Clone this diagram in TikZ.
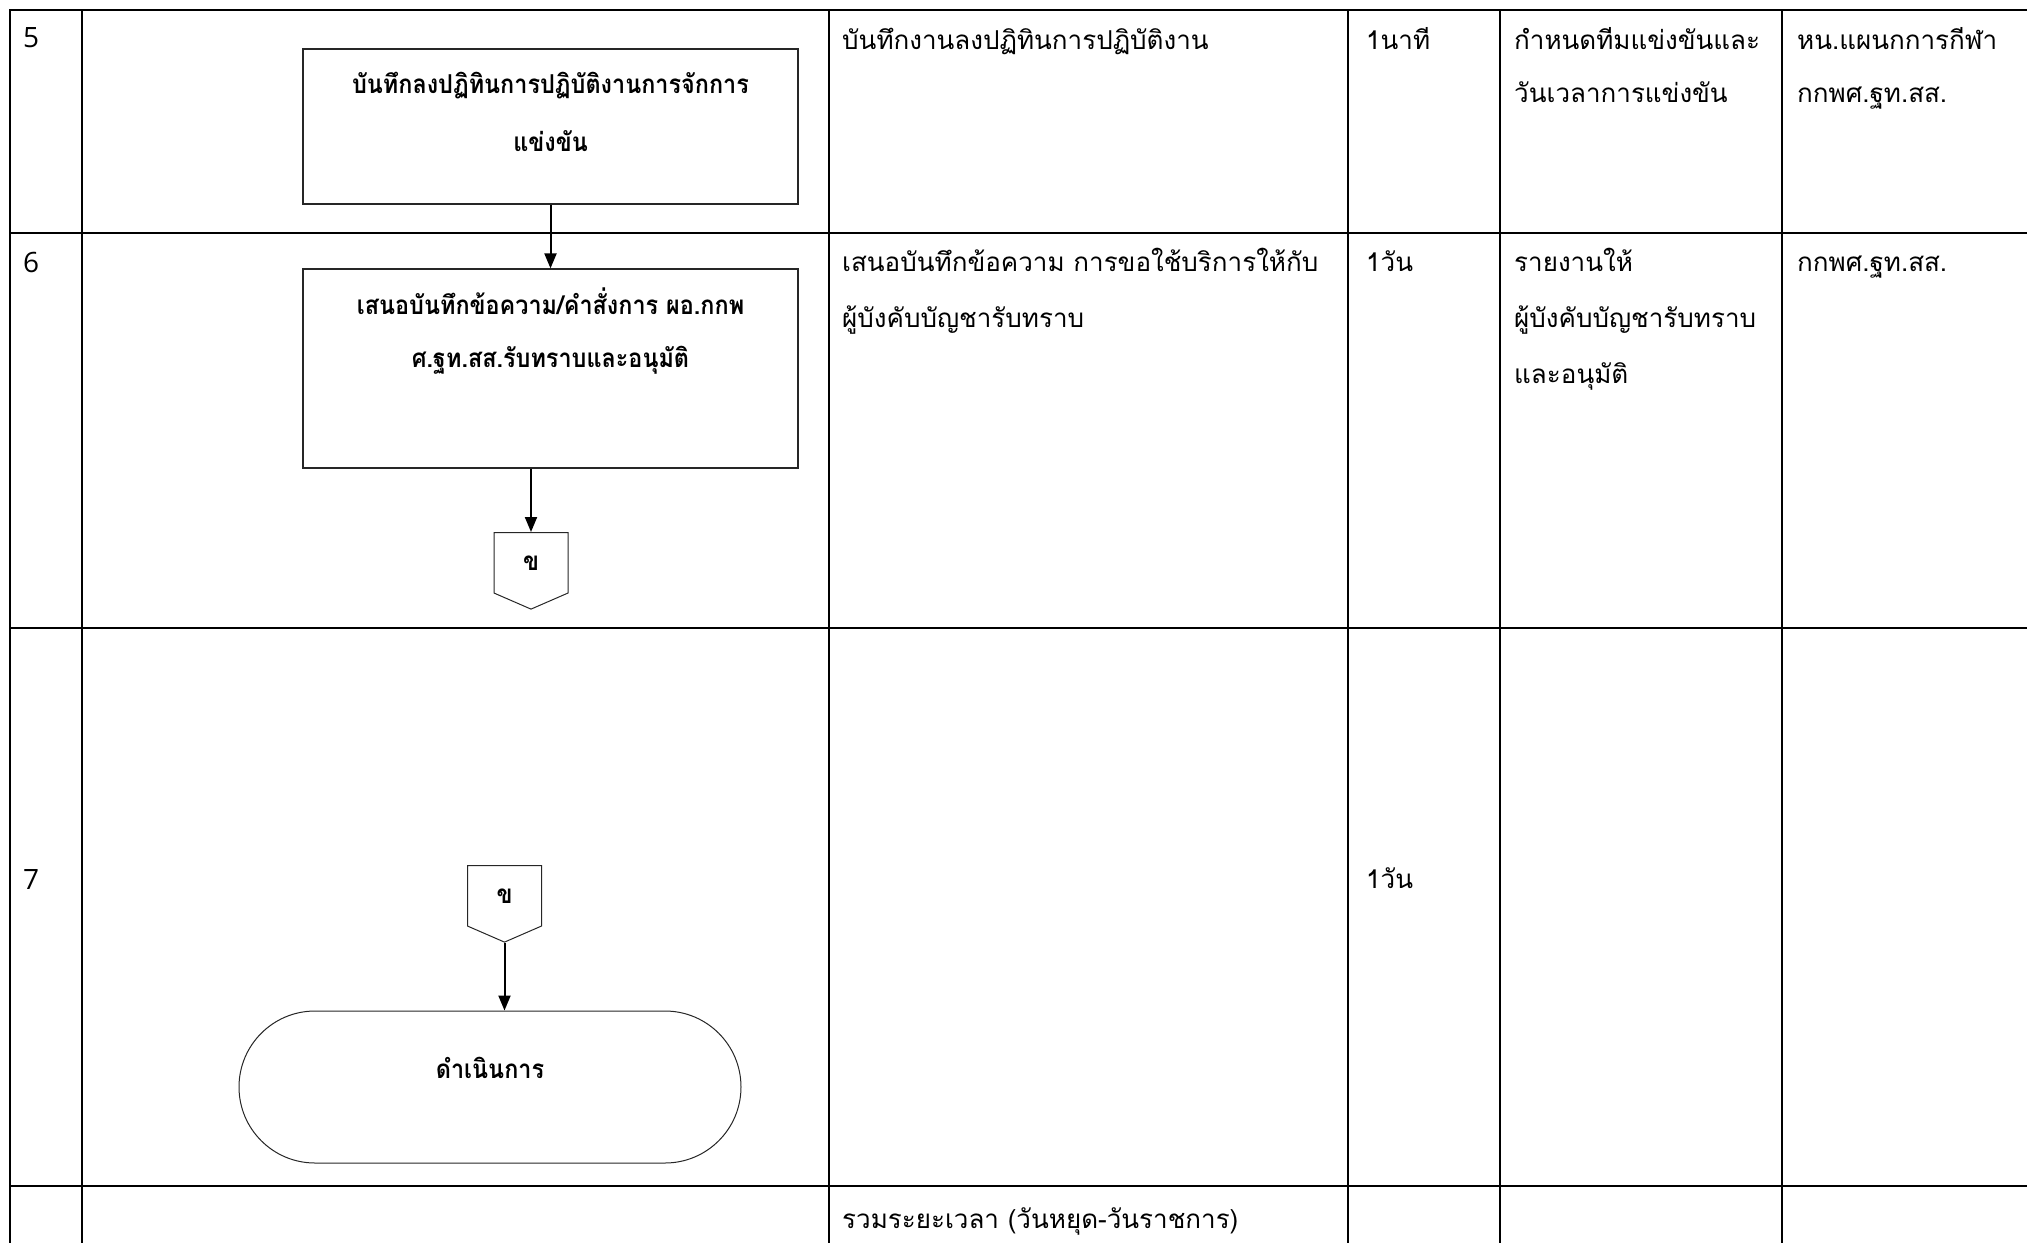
\documentclass[tikz,border=0pt]{standalone}
\usepackage{fontspec}
\usepackage{tikz}
\usetikzlibrary{arrows.meta,shapes.misc,shapes.symbols}

\newfontfamily\thaifont[Script=Thai]{Loma}
\newfontfamily\thaibold[Script=Thai,FakeStretch=0.9]{Loma Bold}
\newfontfamily\numfont{Open Sans}

\begin{document}
\begin{tikzpicture}
[
	               x = 1pt,
	               y = -1pt,
	              >= {Triangle[length=15pt,width=12pt]},
	    rule/.style = { line width=2.5pt, line cap=rect },
	   vrule/.style = { line width=2pt },
	    cell/.style = { anchor=mid west, inner sep=0pt, font=\thaifont\fontsize{26}{30}\selectfont },
	  stepno/.style = { anchor=mid west, inner sep=0pt, font=\numfont\fontsize{28}{32}\selectfont },
	 boxline/.style = { anchor=mid, inner sep=0pt, font=\thaibold\fontsize{26}{30}\selectfont },
	 process/.style = { draw=black!85, line width=1.2pt, rectangle, minimum width=495pt, inner sep=0pt },
	 offpage/.style = { draw=black!85, line width=1pt, signal, signal to=south, signal pointer angle=133,
	                    minimum width=74pt, minimum height=64pt, inner sep=0pt, anchor=north,
	                    font=\thaibold\fontsize{26}{30}\selectfont },
	terminal/.style = { draw=black!85, line width=1pt, rounded rectangle, minimum width=502pt,
	                    minimum height=152pt, inner sep=0pt },
	    flow/.style = { ->, line width=2pt }
]
	\useasboundingbox (0,0) rectangle (2027,1243);

	% table
	\foreach \y in {10,233,628,1186}
		\draw [rule] (10,\y) -- (2027,\y);
	\foreach \x in {10,82,829,1348,1500,1782}
		\draw [vrule] (\x,10) -- (\x,1243);

	% step numbers
	\node (no5) at (23,45)  [stepno] {5};
	\node (no6) at (23,270) [stepno] {6};
	\node (no7) at (23,887) [stepno] {7};

	% flow chart
	\node (record) at (550.5,126.5) [process, minimum height=155pt] {};
	\node (recordA) at (550.5,91)  [boxline] {บันทึกลงปฏิทินการปฏิบัติงานการจักการ};
	\node (recordB) at (550.5,149) [boxline] {แข่งขัน};

	\node (memo) at (550.5,368.5) [process, minimum height=199pt] {};
	\node (memoA) at (550.5,312) [boxline] {เสนอบันทึกข้อความ/คำสั่งการ ผอ.กกพ};
	\node (memoB) at (550.5,365) [boxline] {ศ.ฐท.สส.รับทราบและอนุมัติ};

	\node (outB) at (531,532) [offpage] {ข};
	\node (inB)  at (504.5,865) [offpage] {ข};

	\node (act) at (490,1087) [terminal] {};
	\node (actText) at (490,1076) [boxline] {ดำเนินการ};

	% edges
	\draw [flow] (record) -- (memo);
	\draw [flow] (outB.north |- memo.south) -- (outB.north);
	\draw [flow] (inB.south) -- (inB.south |- act.north);

	% row 5
	\node (r5a)  at (842,47)   [cell] {บันทึกงานลงปฏิทินการปฏิบัติงาน};
	\node (r5b)  at (1366,47)  [cell] {1นาที};
	\node (r5c1) at (1514,47)  [cell] {กำหนดทีมแข่งขันและ};
	\node (r5c2) at (1514,100) [cell] {วันเวลาการแข่งขัน};
	\node (r5d1) at (1797,47)  [cell] {หน.แผนกการกีฬา};
	\node (r5d2) at (1797,100) [cell] {กกพศ.ฐท.สส.};

	% row 6
	\node (r6a1) at (842,269)  [cell] {เสนอบันทึกข้อความ การขอใช้บริการให้กับ};
	\node (r6a2) at (842,325)  [cell] {ผู้บังคับบัญชารับทราบ};
	\node (r6b)  at (1366,269) [cell] {1วัน};
	\node (r6c1) at (1514,269) [cell] {รายงานให้};
	\node (r6c2) at (1514,325) [cell] {ผู้บังคับบัญชารับทราบ};
	\node (r6c3) at (1514,381) [cell] {และอนุมัติ};
	\node (r6d)  at (1797,269) [cell] {กกพศ.ฐท.สส.};

	% row 7
	\node (r7b)  at (1366,886) [cell] {1วัน};

	% total
	\node (sum)  at (842,1226) [cell] {รวมระยะเวลา (วันหยุด-วันราชการ)};

\end{tikzpicture}
\end{document}
